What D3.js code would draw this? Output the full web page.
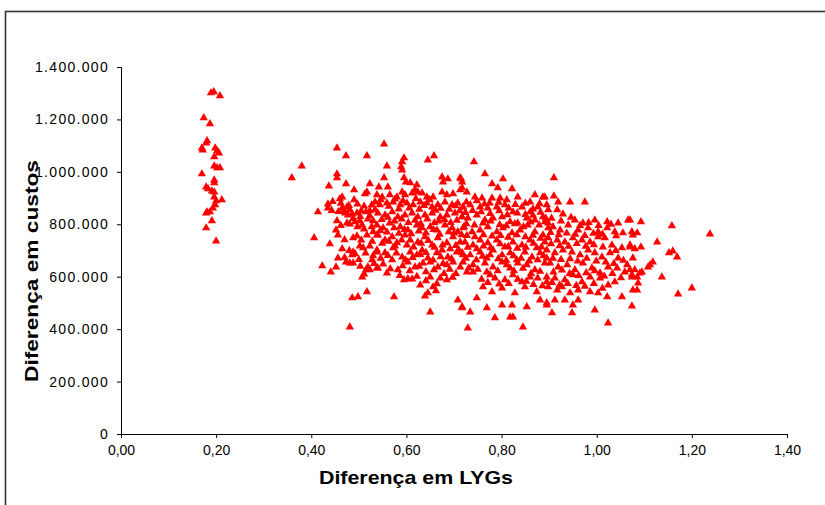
<!DOCTYPE html>
<html>
<head>
<meta charset="utf-8">
<script src="https://cdn.jsdelivr.net/npm/d3@7"></script>
<style>
  body { margin: 0; background: #fff; }
  svg { display: block; font-family: Arial, "Liberation Sans", sans-serif; }
  .tick text { fill: #000; }
</style>
</head>
<body>
<svg id="chart"></svg>
<script>
// [diferença em LYGs, diferença em custos]
let grupoEsquerdo = [
  [.189,1301000],[.195,1305000],[.208,1290000],[.174,1206000],[.187,1183000],[.181,1118000],[.179,1110000],
  [.170,1091000],[.172,1083000],[.198,1091000],[.202,1080000],[.206,1072000],[.196,1057000],[.196,1022000],
  [.202,1015000],[.208,1015000],[.170,992000],[.196,969000],[.196,958000],[.179,942000],[.183,935000],
  [.191,927000],[.196,923000],[.196,904000],[.200,889000],[.212,893000],[.198,874000],[.193,862000],
  [.181,847000],[.187,847000],[.179,843000],[.191,813000],[.179,786000],[.200,736000]
]

let nuvem1 = [
  [.454,1091000],[.473,1061000],[.517,1061000],[.380,1022000],[.359,977000],[.454,992000],[.454,977000],
  [.437,946000],[.473,954000],[.490,931000],[.523,954000],[.513,916000],[.517,923000],[.465,904000],
  [.460,897000],[.490,893000],[.435,877000],[.435,862000],[.414,847000],[.465,862000],[.475,866000],
  [.481,855000],[.471,843000],[.477,835000],[.486,839000],[.496,843000],[.505,851000],[.515,847000],
  [.523,851000],[.534,855000],[.454,813000],[.475,805000],[.481,801000],[.492,809000],[.502,813000],
  [.507,797000],[.523,832000],[.530,813000],[.452,778000],[.456,759000],[.406,748000],[.439,725000],
  [.496,755000],[.517,759000],[.530,771000],[.538,759000],[.502,717000],[.509,710000],[.523,717000],
  [.538,694000],[.488,694000],[.486,683000],[.492,687000],[.456,671000],[.473,656000],[.481,652000],
  [.488,652000],[.528,664000],[.423,641000],[.452,637000],[.441,618000],[.519,637000],[.515,626000],
  [.523,626000],[.538,633000],[.507,599000],[.511,610000],[.517,542000],[.498,523000],[.486,519000],
  [.481,408000]
]

let nuvem2 = [
  [.553,1106000],[.595,1053000],[.591,1038000],[.589,1019000],[.591,1007000],[.645,1045000],[.658,1061000],
  [.559,1022000],[.553,977000],[.595,977000],[.599,961000],[.542,942000],[.561,942000],[.608,958000],
  [.675,980000],[.687,973000],[.677,961000],[.715,973000],[.622,950000],[.618,931000],[.624,923000],
  [.538,912000],[.549,904000],[.565,912000],[.580,904000],[.591,923000],[.597,912000],[.612,919000],
  [.633,919000],[.643,904000],[.656,904000],[.675,923000],[.685,912000],[.698,916000],[.717,939000],
  [.534,885000],[.544,874000],[.559,881000],[.572,885000],[.587,874000],[.601,881000],[.614,874000],
  [.629,885000],[.643,881000],[.654,866000],[.666,874000],[.681,885000],[.696,874000],[.708,881000],
  [.719,866000],[.540,843000],[.555,835000],[.570,847000],[.582,828000],[.597,835000],[.612,843000],
  [.624,828000],[.639,835000],[.654,843000],[.671,828000],[.685,835000],[.702,843000],[.717,828000],
  [.538,797000],[.551,786000],[.565,805000],[.587,790000],[.603,778000],[.622,797000],[.633,786000],
  [.650,790000],[.664,778000],[.681,797000],[.696,786000],[.708,771000],[.721,790000],[.540,759000],
  [.555,740000],[.570,752000],[.580,729000],[.597,759000],[.608,740000],[.624,732000],[.639,752000],
  [.654,721000],[.666,748000],[.685,729000],[.698,752000],[.713,732000],[.538,702000],[.555,691000],
  [.572,710000],[.591,675000],[.608,694000],[.622,683000],[.633,702000],[.645,671000],[.664,691000],
  [.675,702000],[.687,675000],[.706,694000],[.719,683000],[.540,633000],[.570,664000],[.582,626000],
  [.603,656000],[.618,637000],[.635,652000],[.650,656000],[.666,637000],[.685,645000],[.698,656000],
  [.713,637000],[.559,614000],[.595,588000],[.612,591000],[.629,568000],[.650,599000],[.656,561000],
  [.671,595000],[.685,588000],[.662,546000],[.645,538000],[.639,526000],[.574,523000],[.708,511000],
  [.717,481000],[.650,465000]
]

let nuvem3 = [
  [.742,1038000],[.765,992000],[.803,973000],[.780,954000],[.792,939000],[.822,935000],[.713,977000],
  [.717,961000],[.713,931000],[.727,923000],[.744,904000],[.834,904000],[.860,885000],[.870,912000],
  [.887,904000],[.759,900000],[.780,900000],[.797,900000],[.811,893000],[.719,866000],[.734,874000],
  [.755,866000],[.771,862000],[.790,866000],[.807,874000],[.824,847000],[.843,866000],[.860,847000],
  [.876,866000],[.895,874000],[.717,828000],[.729,824000],[.748,835000],[.765,816000],[.782,824000],
  [.801,828000],[.818,809000],[.834,805000],[.853,824000],[.870,816000],[.887,828000],[.898,805000],
  [.719,786000],[.738,771000],[.755,778000],[.771,790000],[.790,771000],[.803,786000],[.822,767000],
  [.839,778000],[.855,797000],[.870,771000],[.887,759000],[.898,786000],[.723,732000],[.740,721000],
  [.755,740000],[.771,729000],[.790,740000],[.807,713000],[.824,732000],[.843,721000],[.860,740000],
  [.874,710000],[.891,732000],[.717,691000],[.734,683000],[.755,694000],[.769,671000],[.782,702000],
  [.801,683000],[.818,691000],[.832,664000],[.849,694000],[.864,675000],[.881,691000],[.895,671000],
  [.719,656000],[.740,645000],[.765,652000],[.782,637000],[.801,656000],[.818,633000],[.834,652000],
  [.853,645000],[.870,626000],[.891,652000],[.727,618000],[.740,618000],[.776,607000],[.786,595000],
  [.807,588000],[.824,607000],[.843,580000],[.860,599000],[.876,595000],[.895,580000],[.761,561000],
  [.780,542000],[.801,557000],[.828,538000],[.849,561000],[.874,542000],[.748,519000],[.717,485000],
  [.734,465000],[.769,481000],[.801,492000],[.822,492000],[.853,485000],[.881,511000],[.895,492000],
  [.786,443000],[.818,446000],[.824,446000],[.729,404000],[.845,408000]
]

let nuvem4 = [
  [.910,977000],[.891,904000],[.910,908000],[.919,885000],[.944,885000],[.975,885000],[.898,855000],
  [.917,855000],[.929,839000],[.954,816000],[.971,805000],[.996,816000],[1.022,809000],[1.045,805000],
  [1.066,816000],[.891,809000],[.908,790000],[.923,778000],[.940,797000],[.961,778000],[.982,786000],
  [1.003,771000],[1.022,786000],[1.038,771000],[1.055,767000],[1.074,771000],[.898,748000],[.917,740000],
  [.933,732000],[.950,748000],[.969,740000],[.986,732000],[1.003,752000],[1.017,748000],[1.032,721000],
  [1.053,710000],[1.070,721000],[.895,702000],[.912,691000],[.929,702000],[.948,694000],[.965,683000],
  [.982,702000],[.996,691000],[1.011,675000],[1.028,691000],[1.045,671000],[1.064,645000],[1.076,671000],
  [.902,652000],[.919,637000],[.938,645000],[.954,626000],[.971,652000],[.990,633000],[1.007,614000],
  [1.024,637000],[1.043,633000],[1.059,618000],[.895,599000],[.912,595000],[.933,588000],[.950,607000],
  [.969,580000],[.986,599000],[1.007,595000],[1.024,568000],[1.038,580000],[1.074,607000],[.898,561000],
  [.917,549000],[.927,561000],[.944,538000],[.961,549000],[.986,542000],[1.003,538000],[1.022,523000],
  [1.053,523000],[1.076,549000],[.895,500000],[.912,511000],[.933,511000],[.950,492000],[.961,511000],
  [.906,462000],[.948,462000],[.996,473000],[1.024,423000]
]

let nuvem5 = [
  [1.093,809000],[1.158,794000],[1.238,763000],[1.070,816000],[1.076,759000],[1.085,767000],[1.127,732000],
  [1.070,713000],[1.080,706000],[1.093,713000],[1.152,691000],[1.160,698000],[1.169,675000],[1.112,645000],
  [1.118,656000],[1.108,637000],[1.070,626000],[1.080,626000],[1.091,614000],[1.074,599000],[1.085,599000],
  [1.095,618000],[1.087,576000],[1.137,599000],[1.085,549000],[1.200,557000],[1.171,534000],[1.074,488000]
]

// pontos das zonas mais densas (sobrepostos no original, estimados)
let densoA = [
  [.546,893000],[.563,868000],[.576,896000],[.584,858000],[.593,889000],[.606,862000],[.620,898000],
  [.627,857000],[.637,871000],[.649,893000],[.661,853000],[.672,861000],[.690,857000],[.703,870000],
  [.712,851000],[.548,818000],[.561,826000],[.575,812000],[.590,820000],[.604,806000],[.618,815000],
  [.630,803000],[.644,820000],[.659,806000],[.668,812000],[.680,818000],[.693,806000],[.706,815000],
  [.545,776000],[.559,770000],[.574,786000],[.584,765000],[.596,780000],[.610,764000],[.626,774000],
  [.641,767000],[.657,780000],[.670,762000],[.689,771000],[.700,766000],[.716,760000],[.549,727000],
  [.563,735000],[.576,717000],[.590,740000],[.601,721000],[.615,713000],[.631,727000],[.646,738000],
  [.659,712000],[.676,721000],[.692,706000],[.704,719000],[.546,670000],[.561,681000],[.579,690000],
  [.598,664000],[.613,673000],[.629,684000],[.641,692000],[.656,663000],[.672,676000],[.695,668000],
  [.711,700000],[.551,648000],[.566,630000],[.592,641000],[.607,622000],[.627,640000],[.641,619000],
  [.658,626000],[.677,650000],[.691,628000],[.704,612000],[.586,604000],[.603,592000],[.622,601000],
  [.641,584000],[.664,573000],[.679,612000],[.697,598000]
]

let densoB = [
  [.726,885000],[.748,889000],[.764,877000],[.775,881000],[.794,884000],[.815,862000],[.829,875000],
  [.850,880000],[.866,858000],[.880,878000],[.724,845000],[.739,852000],[.757,847000],[.776,841000],
  [.795,851000],[.812,836000],[.833,843000],[.850,837000],[.866,834000],[.882,846000],[.726,802000],
  [.743,797000],[.761,805000],[.777,812000],[.796,798000],[.810,794000],[.828,802000],[.846,790000],
  [.861,808000],[.879,797000],[.893,823000],[.727,757000],[.744,752000],[.762,760000],[.780,755000],
  [.798,757000],[.814,750000],[.832,760000],[.850,752000],[.866,758000],[.882,746000],[.729,712000],
  [.748,706000],[.762,717000],[.777,710000],[.797,725000],[.814,715000],[.833,708000],[.851,712000],
  [.867,727000],[.884,713000],[.725,670000],[.747,664000],[.760,678000],[.776,683000],[.793,668000],
  [.810,662000],[.825,680000],[.841,670000],[.858,660000],[.876,664000],[.888,680000],[.731,633000],
  [.750,628000],[.769,618000],[.792,622000],[.811,645000],[.826,622000],[.845,632000],[.862,612000],
  [.881,620000],[.758,590000],[.771,578000],[.795,572000],[.815,574000],[.834,590000],[.852,582000],
  [.867,570000],[.886,565000]
]

let densoC = [
  [.905,823000],[.925,812000],[.946,826000],[.965,795000],[.983,806000],[1.004,795000],[1.030,800000],
  [.903,768000],[.920,760000],[.937,766000],[.955,762000],[.975,757000],[.993,765000],[1.012,762000],
  [1.041,756000],[.904,725000],[.922,718000],[.941,716000],[.958,726000],[.977,716000],[.994,722000],
  [1.013,713000],[1.040,700000],[.908,670000],[.925,665000],[.944,668000],[.960,660000],[.979,670000],
  [.999,660000],[1.019,656000],[1.036,650000],[1.056,662000],[.909,618000],[.927,625000],[.943,612000],
  [.962,604000],[.978,615000],[.996,622000],[1.016,602000],[1.033,612000],[1.051,596000],[.906,578000],
  [.922,568000],[.939,574000],[.957,566000],[.975,563000],[.994,574000],[1.012,556000]
]

let densoD = [
  [.445,887000],[.462,880000],[.479,871000],[.497,877000],[.511,869000],[.527,873000],[.443,852000],
  [.457,848000],[.469,852000],[.488,822000],[.503,829000],[.519,820000],[.462,795000],[.497,790000],
  [.511,782000],[.527,790000],[.470,741000],[.488,748000],[.505,740000],[.528,735000],[.465,706000],
  [.480,700000],[.514,690000],[.530,680000],[.470,673000],[.500,665000],[.532,650000],[.503,640000]
]

let xTicks = [0, 0.2, 0.4, 0.6, 0.8, 1.0, 1.2, 1.4]
let yTicks = [0, 200000, 400000, 600000, 800000, 1000000, 1200000, 1400000]

let width = 825
let height = 505
let margin = {top: 67, bottom: 71, left: 121, right: 38}

let pontos = grupoEsquerdo.concat(nuvem1, nuvem2, nuvem3, nuvem4, nuvem5, densoA, densoB, densoC, densoD)

let pt = d3.formatLocale({decimal: ",", thousands: ".", grouping: [3], currency: ["", ""]})

let svg = d3.select("#chart").attr("width", width).attr("height", height)

// moldura (só topo e esquerda visíveis)
svg.append("rect")
    .attr("x", 5.5).attr("y", 11.5)
    .attr("width", 900).attr("height", 600)
    .attr("fill", "none")
    .attr("stroke", "#333")
    .attr("stroke-width", 1.6)

let w = width - margin.left - margin.right
let h = height - margin.top - margin.bottom
let xScale = d3.scaleLinear().domain([0, 1.4]).range([0, w])
let yScale = d3.scaleLinear().domain([0, 1400000]).range([h, 0])

let plot = svg.append("g").attr("transform", "translate(" + margin.left + "," + margin.top + ")")

let gx = plot.append("g")
    .attr("transform", "translate(0," + h + ")")
    .call(d3.axisBottom(xScale).tickValues(xTicks).tickSize(4).tickPadding(7).tickFormat(pt.format(".2f")))
gx.selectAll("text").style("font-size", "14px")

let gy = plot.append("g")
    .call(d3.axisLeft(yScale).tickValues(yTicks).tickSize(4).tickPadding(8).tickFormat(pt.format(",d")))
gy.selectAll("text").style("font-size", "14px").style("letter-spacing", "1.3px")

plot.selectAll(".domain, .tick line").attr("stroke", "#000")

plot.append("g")
    .selectAll("path")
    .data(pontos)
    .enter()
    .append("path")
    .attr("transform", d => "translate(" + xScale(d[0]) + "," + yScale(d[1]) + ")")
    .attr("d", d3.symbol(d3.symbolTriangle, 30))
    .attr("fill", "#ff0000")

svg.append("text")
    .attr("x", 416)
    .attr("y", 484)
    .attr("text-anchor", "middle")
    .attr("textLength", 194)
    .attr("lengthAdjust", "spacingAndGlyphs")
    .style("font-size", "19px")
    .style("font-weight", "bold")
    .text("Diferença em LYGs")

svg.append("text")
    .attr("transform", "translate(38,271) rotate(-90)")
    .attr("text-anchor", "middle")
    .attr("textLength", 222)
    .attr("lengthAdjust", "spacingAndGlyphs")
    .style("font-size", "19px")
    .style("font-weight", "bold")
    .text("Diferença em custos")
</script>
</body>
</html>
